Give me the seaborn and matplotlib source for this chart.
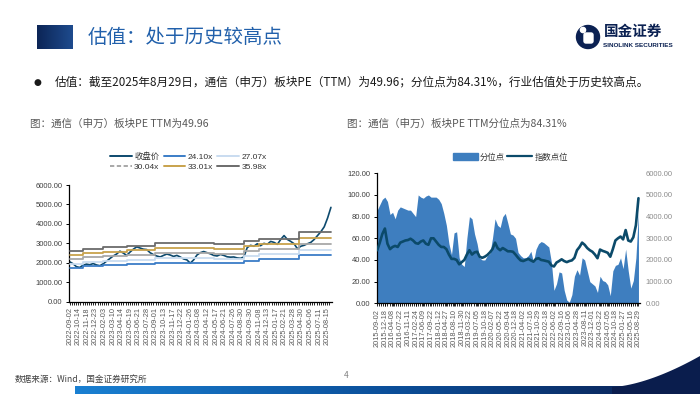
import numpy as np
import matplotlib
matplotlib.use("Agg")
import matplotlib.pyplot as plt
import seaborn as sns
from matplotlib.lines import Line2D
from matplotlib.patches import Patch, Circle, FancyBboxPatch, Polygon
from matplotlib.colors import LinearSegmentedColormap
from matplotlib.ticker import FixedLocator, FuncFormatter

# ------------------------- texts -------------------------
title = "估值：处于历史较高点"
bullet_text = ("估值：截至2025年8月29日，通信（申万）板块PE（TTM）为49.96；"
               "分位点为84.31%，行业估值处于历史较高点。")
left_subtitle = "图：通信（申万）板块PE TTM为49.96"
right_subtitle = "图：通信（申万）板块PE TTM分位点为84.31%"
source_text = "数据来源：Wind，国金证券研究所"
page_no = "4"

# ------------------------- left chart data -------------------------
left_dates = ["2022-09-02", "2022-10-14", "2022-11-18", "2022-12-23", "2023-02-03",
              "2023-03-10", "2023-04-14", "2023-05-19", "2023-06-21", "2023-07-28",
              "2023-09-01", "2023-10-13", "2023-11-17", "2023-12-22", "2024-01-26",
              "2024-03-08", "2024-04-12", "2024-05-17", "2024-06-21", "2024-07-26",
              "2024-08-30", "2024-09-30", "2024-11-08", "2024-12-13", "2025-01-17",
              "2025-02-21", "2025-03-28", "2025-04-30", "2025-06-06", "2025-07-11",
              "2025-08-15"]
LEFT_LAST_DAY = 730       # trading-day index of 2025-08-29
LEFT_LABEL_STEP = 24      # trading days between labelled dates

# closing price, sampled roughly every two weeks
close_price = [2050, 1950, 1800, 1760, 1880, 1930, 1900, 1960, 1890, 1850,
               1950, 2080, 2220, 2350, 2450, 2600, 2500, 2380, 2550, 2700,
               2820, 2760, 2700, 2680, 2520, 2420, 2350, 2300, 2380, 2450,
               2400, 2330, 2380, 2300, 2200, 2150, 1980, 2150, 2400, 2520,
               2580, 2520, 2460, 2380, 2350, 2430, 2380, 2310, 2290, 2300,
               2250, 2230, 2300, 2780, 2900, 2850, 2980, 2880, 3000, 2950,
               3100, 3050, 2950, 3200, 3400, 3200, 3100, 2980, 2720, 2850,
               2900, 2980, 3050, 3200, 3400, 3600, 3850, 4300, 4850]

band_names = ["24.10x", "27.07x", "30.04x", "33.01x", "35.98x"]
band_change_day = [0, 37, 94, 159, 239, 402, 487, 529, 641, 730]
band_2410 = [1746, 1826, 1875, 1929, 2009, 1976, 2076, 2170, 2384, 2384]
band_2707 = [1961, 2051, 2107, 2167, 2257, 2220, 2332, 2438, 2678, 2678]
band_3004 = [2176, 2276, 2338, 2405, 2505, 2463, 2588, 2705, 2972, 2972]
band_3301 = [2391, 2501, 2569, 2642, 2753, 2707, 2844, 2973, 3266, 3266]
band_3598 = [2606, 2726, 2800, 2880, 3000, 2950, 3100, 3240, 3560, 3560]

# ------------------------- right chart data -------------------------
right_dates = ["2015-09-02", "2015-12-18", "2016-04-08", "2016-07-22", "2016-11-11",
               "2017-02-24", "2017-06-09", "2017-09-22", "2018-01-12", "2018-04-27",
               "2018-08-10", "2018-11-30", "2019-03-22", "2019-07-05", "2019-10-18",
               "2020-02-07", "2020-05-22", "2020-09-04", "2020-12-18", "2021-04-02",
               "2021-07-16", "2021-10-29", "2022-02-18", "2022-06-02", "2022-09-16",
               "2023-01-06", "2023-04-28", "2023-08-11", "2023-12-01", "2024-03-22",
               "2024-07-05", "2024-10-18", "2025-01-27", "2025-05-16", "2025-08-29"]
RIGHT_LAST_WEEK = 510
RIGHT_LABEL_STEP = 15

# sampled every 5 weeks
pct_rank = [86, 91, 96, 98, 94, 82, 84, 78, 86, 89,
            88, 87, 86, 86, 83, 80, 100, 98, 97, 99,
            100, 98, 98, 98, 96, 92, 83, 72, 55, 45,
            65, 66, 42, 36, 34, 60, 80, 78, 64, 55,
            42, 40, 40, 44, 46, 60, 78, 72, 70, 80,
            83, 74, 64, 63, 60, 47, 44, 42, 42, 44,
            48, 38, 50, 55, 57, 56, 54, 52, 38, 12,
            18, 29, 28, 12, 3, 1, 8, 25, 31, 26,
            42, 40, 30, 20, 18, 16, 10, 25, 21, 20,
            17, 7, 30, 35, 36, 42, 32, 50, 30, 14,
            21, 42, 84.31]
index_level = [2450, 2800, 3200, 3450, 2750, 2500, 2600, 2650, 2600, 2800,
               2850, 2900, 2920, 2980, 2900, 2780, 2750, 2850, 2900, 2750,
               2700, 3000, 3000, 2850, 2700, 2600, 2600, 2500, 2250, 2050,
               2050, 2000, 1800, 1900, 2000, 2250, 2450, 2250, 2350, 2380,
               2150, 2100, 2150, 2230, 2350, 2500, 2800, 2550, 2450, 2550,
               2480, 2400, 2400, 2380, 2250, 2100, 1980, 1950, 2000, 2050,
               1980, 1920, 2050, 2080, 2000, 1980, 1950, 1920, 1750, 1700,
               1880, 1950, 2030, 1950, 1900, 1950, 1980, 2100, 2450, 2600,
               2800, 2700, 2550, 2450, 2380, 2250, 2080, 2480, 2420, 2380,
               2330, 2150, 2500, 2900, 3000, 3080, 2950, 3380, 2900, 2850,
               3050, 3600, 4850]

# ------------------------- styling -------------------------
sns.set_theme(style="ticks")
plt.rcParams["font.family"] = ["Noto Sans CJK SC", "DejaVu Sans"]
plt.rcParams["axes.unicode_minus"] = False
NUM_FONT = ["Liberation Sans", "DejaVu Sans"]

C_CLOSE = "#0d4a6e"
C_B1 = "#3b7dc7"
C_B2 = "#c9dcf0"
C_B3 = "#a8a8a8"
C_B4 = "#c8a24c"
C_B5 = "#6b6b6b"
C_PCT = "#3e7ebf"
C_IDX = "#0b4a6a"
NAVY = "#0b2152"

fig = plt.figure(figsize=(7.0, 3.94), dpi=100)
fig.patch.set_facecolor("white")

# ------------------------- page decoration (pixel coordinates) -------------------------
bg = fig.add_axes([0, 0, 1, 1], zorder=0)
bg.set_xlim(0, 700)
bg.set_ylim(394, 0)
bg.axis("off")

grad = np.linspace(0, 1, 256).reshape(1, -1)
sq_cmap = LinearSegmentedColormap.from_list("sq", ["#0c2556", "#1e4b8e"])
bg.imshow(grad, extent=[37, 73, 49, 25], cmap=sq_cmap, aspect="auto", zorder=1)
bg.text(88, 37.5, title, fontsize=14, color="#2160ab", va="center", ha="left")

# logo
bg.add_patch(Circle((588, 37), 11.5, color=NAVY, zorder=2))
bg.add_patch(FancyBboxPatch((584, 33), 9, 10, boxstyle="round,pad=0,rounding_size=2",
                            color="white", zorder=3))
bg.add_patch(Circle((583, 30), 2.6, color="white", zorder=3))
bg.text(604, 31, "国金证券", fontsize=10.5, color=NAVY, fontweight="bold",
        va="center", ha="left")
bg.text(603, 45, "SINOLINK SECURITIES", fontsize=4.6, color=NAVY, fontweight="bold",
        va="center", ha="left", family=NUM_FONT)

# bullet + subtitles
bg.text(37, 82, "●", fontsize=6.5, color="#1a1a1a", va="center", ha="center",
        family=["DejaVu Sans"])
bg.text(55, 82, bullet_text, fontsize=8.4, color="#1a1a1a", va="center", ha="left")
bg.text(30, 124, left_subtitle, fontsize=7.6, color="#595959", va="center", ha="left")
bg.text(347, 124, right_subtitle, fontsize=7.6, color="#595959", va="center", ha="left")

# footer
bg.text(15, 379, source_text, fontsize=6.2, color="#404040", va="center", ha="left")
bg.text(346, 375, page_no, fontsize=6, color="#808080", va="center", ha="center")
bar_cmap = LinearSegmentedColormap.from_list("bar", ["#1a80d2", "#0b4f9a", "#0a1d4d"])
bg.imshow(grad, extent=[75, 700, 394, 386], cmap=bar_cmap, aspect="auto", zorder=1)
xs = np.linspace(612, 700, 40)
ys = 387 - 31 * ((xs - 612) / 88) ** 1.6
bg.add_patch(Polygon(np.column_stack([np.r_[xs, 700, 612], np.r_[ys, 394, 394]]),
                     closed=True, color="#0a1d4d", zorder=2, lw=0))


def style_axes(ax, label_color):
    for side in ("top", "right"):
        ax.spines[side].set_visible(False)
    for side in ("left", "bottom"):
        ax.spines[side].set_color("black")
        ax.spines[side].set_linewidth(0.9)
    ax.set_facecolor("none")
    ax.tick_params(axis="y", which="major", length=2.5, width=0.7, color="black",
                   labelsize=5.5, labelcolor=label_color, pad=2)
    ax.tick_params(axis="x", which="both", length=2.5, width=0.6, color="black",
                   labelsize=5.3, labelcolor="#595959", pad=1.5, rotation=90)
    for lab in ax.get_xticklabels() + ax.get_yticklabels():
        lab.set_family(NUM_FONT)


# ------------------------- left chart -------------------------
axL = fig.add_axes([69 / 700, 1 - 301.7 / 394, 263 / 700, (301.7 - 185) / 394], zorder=2)
close_x = np.linspace(0, LEFT_LAST_DAY, len(close_price))
sns.lineplot(x=close_x, y=close_price, ax=axL, color=C_CLOSE, linewidth=1.2, zorder=2,
             legend=False)
bands = [band_2410, band_2707, band_3004, band_3301, band_3598]
band_colors = [C_B1, C_B2, C_B3, C_B4, C_B5]
for vals, col in zip(bands, band_colors):
    sns.lineplot(x=band_change_day, y=vals, ax=axL, color=col, linewidth=1.3,
                 drawstyle="steps-post", zorder=3, legend=False)

axL.set_xlim(-2, LEFT_LAST_DAY + 3)
axL.set_ylim(0, 6000)
axL.set_yticks(np.arange(0, 6001, 1000))
axL.yaxis.set_major_formatter(FuncFormatter(lambda v, p: f"{v:.2f}"))
left_pos = np.arange(len(left_dates)) * LEFT_LABEL_STEP
axL.xaxis.set_major_locator(FixedLocator(left_pos))
axL.set_xticklabels(left_dates)
axL.xaxis.set_minor_locator(FixedLocator(np.arange(0, LEFT_LAST_DAY + 1, 6)))
axL.set_xlabel("")
axL.set_ylabel("")
style_axes(axL, "#404040")

h_close = Line2D([], [], color=C_CLOSE, lw=1.4)
h_b = [Line2D([], [], color=C_B1, lw=1.4),
       Line2D([], [], color=C_B2, lw=1.4),
       Line2D([], [], color=C_B3, lw=1.4, linestyle=(0, (2.2, 1.3))),
       Line2D([], [], color=C_B4, lw=1.4),
       Line2D([], [], color=C_B5, lw=1.4)]
handles = [h_close, h_b[2], h_b[0], h_b[3], h_b[1], h_b[4]]
labels = ["收盘价", band_names[2], band_names[0], band_names[3], band_names[1], band_names[4]]
legL = fig.legend(handles, labels, ncol=3, loc="center", bbox_to_anchor=(0.269, 0.590),
                  frameon=False, fontsize=6, handlelength=2.6, handletextpad=0.3,
                  columnspacing=0.5, labelspacing=0.35, borderpad=0)
for t in legL.get_texts():
    t.set_color("#333333")
    if "x" in t.get_text():
        t.set_family(NUM_FONT)

# ------------------------- right chart -------------------------
axR = fig.add_axes([376.7 / 700, 1 - 303.3 / 394, 263.3 / 700, 130 / 394], zorder=2)
week_x = np.linspace(0, RIGHT_LAST_WEEK, len(pct_rank))
axR.fill_between(week_x, 0, pct_rank, color=C_PCT, lw=0, zorder=2)
axR.set_xlim(-1, RIGHT_LAST_WEEK + 3)
axR.set_ylim(0, 120)
axR.set_yticks(np.arange(0, 121, 20))
axR.yaxis.set_major_formatter(FuncFormatter(lambda v, p: f"{v:.2f}"))
right_pos = np.arange(len(right_dates)) * RIGHT_LABEL_STEP
axR.xaxis.set_major_locator(FixedLocator(right_pos))
axR.set_xticklabels(right_dates)
axR.xaxis.set_minor_locator(FixedLocator(np.arange(0, RIGHT_LAST_WEEK + 1, 4)))
style_axes(axR, "#404040")

ax2 = axR.twinx()
ax2.set_zorder(3)
sns.lineplot(x=week_x, y=index_level, ax=ax2, color=C_IDX, linewidth=1.9, legend=False)
ax2.set_ylim(0, 6000)
ax2.set_yticks(np.arange(0, 6001, 1000))
ax2.yaxis.set_major_formatter(FuncFormatter(lambda v, p: f"{v:.2f}"))
for side in ("top", "right", "left", "bottom"):
    ax2.spines[side].set_visible(False)
ax2.tick_params(axis="y", length=0, labelsize=5.5, labelcolor="#8c8c8c", pad=4)
for lab in ax2.get_yticklabels():
    lab.set_family(NUM_FONT)
ax2.set_ylabel("")
axR.set_xlabel("")
axR.set_ylabel("")

legR = fig.legend([Patch(color=C_PCT), Line2D([], [], color=C_IDX, lw=1.6)],
                  ["分位点", "指数点位"], ncol=2, loc="center",
                  bbox_to_anchor=(0.729, 0.6015), frameon=False, fontsize=6,
                  handlelength=3.0, handleheight=0.9, handletextpad=0.3,
                  columnspacing=0.2, borderpad=0)
for t in legR.get_texts():
    t.set_color("#333333")

fig.savefig("out.png", dpi=100, facecolor="white")
